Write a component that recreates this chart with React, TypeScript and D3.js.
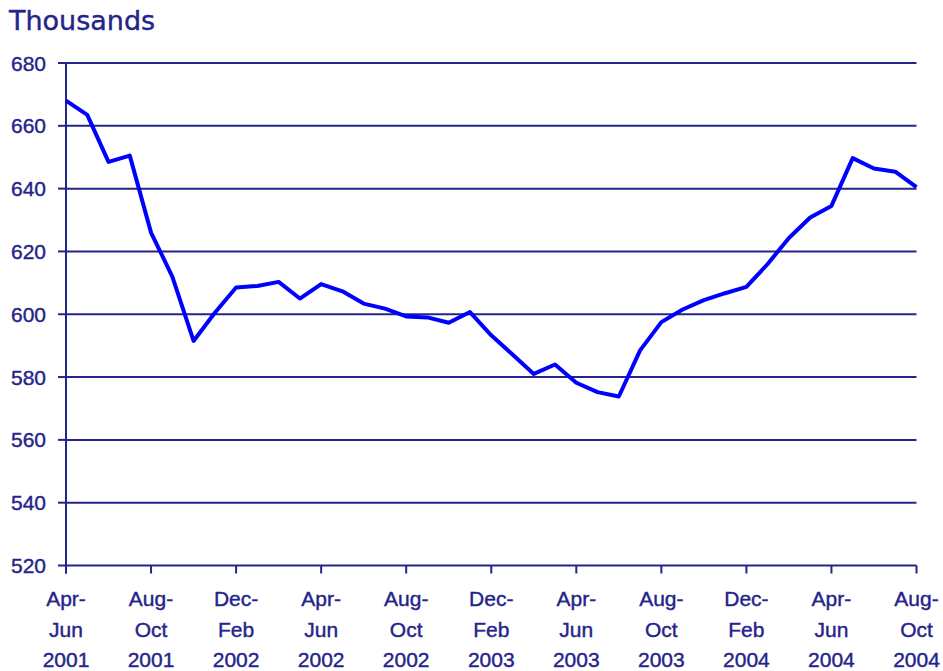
import React from "react"
import * as d3 from "d3"

// rolling three-month periods, Apr-Jun 2001 .. Aug-Oct 2004 (one point per month)
const values = [
  668, 663.5, 648.5, 650.5, 626, 612, 591.5, 600.5, 608.5, 609, 610.3, 605,
  609.6, 607.3, 603.4, 601.8, 599.3, 599, 597.3, 600.7, 593.3, 587.2, 581, 584,
  578.2, 575.2, 573.8, 588.5, 597.5, 601.5, 604.5, 606.7, 608.7, 616, 624.3,
  630.8, 634.5, 649.7, 646.4, 645.4, 640.5,
]

const tickLabels = [
  ["Apr-", "Jun", "2001"],
  ["Aug-", "Oct", "2001"],
  ["Dec-", "Feb", "2002"],
  ["Apr-", "Jun", "2002"],
  ["Aug-", "Oct", "2002"],
  ["Dec-", "Feb", "2003"],
  ["Apr-", "Jun", "2003"],
  ["Aug-", "Oct", "2003"],
  ["Dec-", "Feb", "2004"],
  ["Apr-", "Jun", "2004"],
  ["Aug-", "Oct", "2004"],
]
const yTicks = [520, 540, 560, 580, 600, 620, 640, 660, 680]

const W = 943
const H = 671
const navy = "#24248a"
const font = "'Liberation Sans', Arial, sans-serif"

export default function App() {
  const x = d3.scaleLinear().domain([0, values.length - 1]).range([66, 916.5])
  const y = d3.scaleLinear().domain([520, 680]).range([565.5, 63])

  const line = d3
    .line<number>()
    .x((d, i) => x(i))
    .y((d) => y(d))

  return (
    <svg
      width={W}
      height={H}
      style={{ position: "absolute", left: 0, top: 0, background: "#fff" }}
    >
      <text
        x={9}
        y={30}
        fill={navy}
        stroke={navy}
        strokeWidth={0.4}
        fontFamily="'DejaVu Sans', Verdana, sans-serif"
        fontSize={27}
      >
        Thousands
      </text>

      {/* grid + y ticks */}
      {yTicks.map((t) => (
        <g key={t}>
          {t > 520 && (
            <line x1={x(0)} x2={x(values.length - 1)} y1={y(t)} y2={y(t)} stroke={navy} strokeWidth={2} />
          )}
          <line x1={58} x2={x(0)} y1={y(t)} y2={y(t)} stroke={navy} strokeWidth={2} />
          <text
            x={46}
            y={y(t)}
            dy="0.36em"
            textAnchor="end"
            fill={navy}
            stroke={navy}
            strokeWidth={0.4}
            fontFamily={font}
            fontSize={21}
          >
            {t}
          </text>
        </g>
      ))}

      {/* axes */}
      <line x1={x(0)} x2={x(0)} y1={y(680)} y2={y(520) + 8} stroke={navy} strokeWidth={2} />
      <line x1={x(0)} x2={x(values.length - 1)} y1={y(520)} y2={y(520)} stroke={navy} strokeWidth={2} />

      {tickLabels.map((lab, k) => {
        const px = x(k * 4)
        return (
          <g key={k}>
            <line x1={px} x2={px} y1={y(520)} y2={y(520) + 8} stroke={navy} strokeWidth={2} />
            {lab.map((s, j) => (
              <text
                key={j}
                x={px}
                y={606 + j * 30.5}
                textAnchor="middle"
                fill={navy}
                stroke={navy}
                strokeWidth={0.4}
                fontFamily={font}
                fontSize={21}
              >
                {s}
              </text>
            ))}
          </g>
        )
      })}

      <path d={line(values) || ""} fill="none" stroke="#0000ff" strokeWidth={4} strokeLinejoin="round" />
    </svg>
  )
}
